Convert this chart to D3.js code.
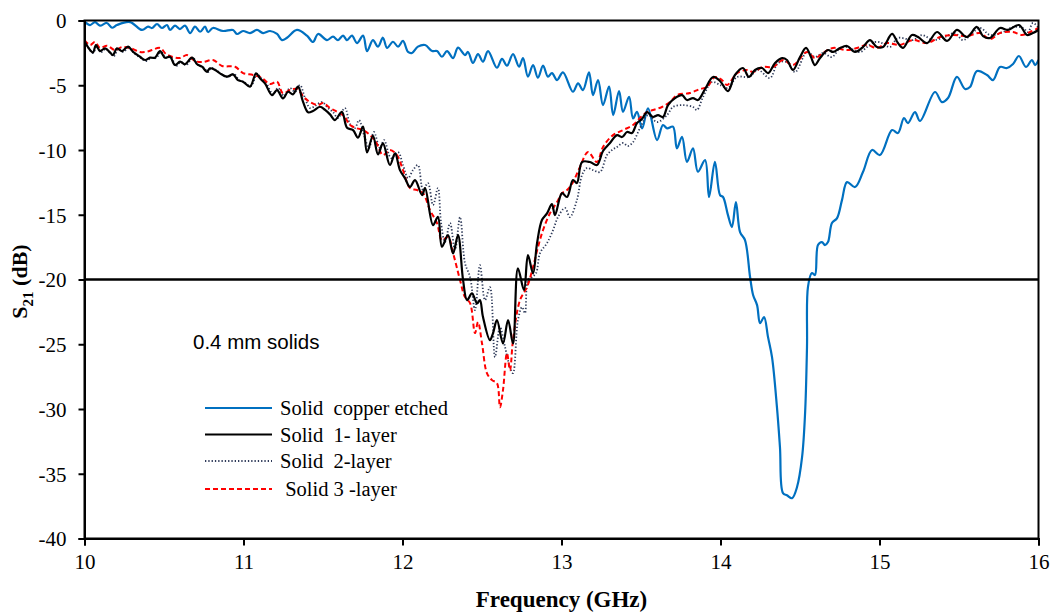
<!DOCTYPE html>
<html>
<head>
<meta charset="utf-8">
<script src="https://cdn.jsdelivr.net/npm/d3@7"></script>
<style>
  html, body { margin: 0; padding: 0; background: #fff; }
  svg { display: block; }
  text { white-space: pre; }
  .tick text { font-family: 'Liberation Serif', 'Times New Roman', serif !important; font-size: 21px !important; }
</style>
</head>
<body>
<svg id="chart" width="1057" height="612"></svg>
<script>
// ---- data (frequency GHz, S21 dB) ----
const xTicks = [10, 11, 12, 13, 14, 15, 16];
const yTicks = [0, -5, -10, -15, -20, -25, -30, -35, -40];
const thresholdDb = -20;
const annotation = "0.4 mm solids";
const seriesNames = ["Solid  copper etched", "Solid  1- layer", "Solid  2-layer", " Solid 3 -layer"];

const copperEtched = [
[10.00,-0.09],[10.035,-0.35],[10.066,-0.12],[10.097,-0.40],[10.14,-0.19],[10.173,-0.56],[10.204,-0.35],[10.286,-0.12],
[10.362,-0.73],[10.40,-0.48],[10.425,-0.58],[10.456,-0.27],[10.487,-0.58],[10.519,-0.35],[10.538,-0.73],[10.569,-0.40],
[10.60,-0.66],[10.632,-0.40],[10.664,-0.97],[10.695,-0.48],[10.727,-0.87],[10.758,-0.48],[10.777,-0.89],[10.808,-0.58],
[10.871,-0.81],[10.934,-0.73],[10.959,-1.04],[10.997,-0.81],[11.041,-0.97],[11.085,-0.73],[11.123,-0.97],[11.167,-0.81],
[11.211,-1.04],[11.242,-1.51],[11.274,-1.33],[11.336,-0.73],[11.399,-1.17],[11.437,-1.66],[11.469,-1.04],[11.525,-1.51],
[11.563,-1.25],[11.594,-1.51],[11.626,-1.17],[11.651,-1.51],[11.682,-1.17],[11.714,-1.74],[11.752,-1.17],[11.777,-2.36],
[11.814,-1.51],[11.846,-2.02],[11.877,-1.33],[11.903,-2.12],[11.940,-1.64],[11.972,-2.02],[12.003,-1.58],[12.035,-2.43],
[12.06,-2.51],[12.097,-2.02],[12.142,-1.89],[12.186,-2.36],[12.217,-2.36],[12.248,-2.80],[12.280,-2.36],[12.318,-2.90],
[12.349,-2.10],[12.393,-2.67],[12.412,-2.43],[12.443,-3.28],[12.475,-2.59],[12.506,-3.18],[12.538,-2.36],[12.594,-3.65],
[12.626,-2.97],[12.657,-3.49],[12.695,-2.59],[12.733,-3.57],[12.758,-2.90],[12.789,-4.34],[12.821,-3.44],[12.852,-4.42],
[12.884,-3.49],[12.915,-4.34],[12.940,-4.06],[12.972,-4.60],[13.009,-4.00],[13.072,-5.50],[13.104,-4.85],[13.135,-5.37],
[13.173,-4.00],[13.198,-5.76],[13.230,-4.60],[13.261,-6.53],[13.299,-5.11],[13.325,-7.30],[13.362,-5.45],[13.387,-7.05],
[13.425,-5.89],[13.450,-7.56],[13.475,-7.05],[13.507,-8.33],[13.544,-6.78],[13.601,-9.23],[13.638,-8.07],[13.664,-8.33],
[13.701,-8.20],[13.726,-9.87],[13.758,-8.98],[13.789,-10.91],[13.827,-9.87],[13.858,-11.68],[13.903,-10.78],[13.928,-13.63],
[13.965,-10.91],[13.997,-13.48],[14.016,-13.63],[14.047,-15.03],[14.072,-15.95],[14.097,-14.02],[14.123,-16.34],[14.154,-16.96],
[14.186,-19.81],[14.205,-21.20],[14.230,-21.98],[14.249,-23.37],[14.274,-22.90],[14.299,-24.45],[14.324,-26.00],[14.355,-29.86],
[14.374,-32.95],[14.393,-36.50],[14.418,-36.66],[14.450,-36.89],[14.481,-36.04],[14.513,-33.72],[14.532,-30.32],[14.544,-25.22],
[14.550,-20.59],[14.575,-19.50],[14.594,-19.66],[14.613,-17.34],[14.638,-17.11],[14.657,-17.34],[14.676,-17.11],[14.701,-15.64],
[14.733,-15.26],[14.764,-13.87],[14.796,-12.48],[14.846,-12.86],[14.896,-11.70],[14.953,-10.00],[15.003,-10.39],[15.079,-8.46],
[15.116,-8.69],[15.154,-7.53],[15.179,-7.92],[15.223,-7.07],[15.255,-7.76],[15.349,-5.52],[15.393,-6.30],[15.431,-5.99],
[15.487,-4.36],[15.538,-5.29],[15.569,-5.14],[15.613,-3.90],[15.676,-4.21],[15.714,-4.60],[15.758,-3.59],[15.802,-3.67],
[15.840,-3.36],[15.877,-2.74],[15.921,-3.59],[15.959,-3.05],[15.978,-3.44],[16.0,-3.05]
];

const oneLayer = [
[10.00,-1.58],[10.02,-2.02],[10.053,-2.46],[10.072,-1.89],[10.097,-2.36],[10.129,-2.15],[10.160,-2.46],[10.179,-2.67],
[10.204,-2.15],[10.236,-2.36],[10.274,-2.02],[10.305,-2.41],[10.349,-2.80],[10.381,-3.05],[10.412,-2.87],[10.443,-2.87],
[10.475,-2.36],[10.506,-2.87],[10.538,-2.80],[10.569,-3.44],[10.601,-3.18],[10.632,-3.38],[10.676,-2.87],[10.708,-3.38],
[10.739,-3.57],[10.770,-3.96],[10.789,-3.69],[10.821,-3.82],[10.852,-4.08],[10.896,-4.34],[10.934,-4.16],[10.965,-4.60],
[10.997,-4.73],[11.041,-5.11],[11.079,-4.08],[11.104,-4.47],[11.135,-4.85],[11.179,-5.76],[11.211,-5.37],[11.248,-6.01],
[11.280,-5.50],[11.311,-5.70],[11.343,-5.11],[11.374,-6.27],[11.406,-7.09],[11.437,-6.99],[11.481,-6.66],[11.513,-6.91],
[11.544,-7.25],[11.575,-7.69],[11.619,-7.05],[11.651,-8.28],[11.689,-8.46],[11.720,-9.05],[11.752,-8.20],[11.777,-10.18],
[11.814,-8.90],[11.846,-10.34],[11.877,-9.49],[11.921,-11.16],[11.953,-10.26],[11.984,-11.55],[12.016,-12.19],[12.047,-12.86],
[12.079,-12.32],[12.123,-13.48],[12.142,-12.94],[12.192,-15.80],[12.223,-15.16],[12.248,-17.47],[12.286,-16.57],[12.318,-17.98],
[12.349,-16.57],[12.381,-20.05],[12.406,-21.59],[12.437,-21.07],[12.469,-21.85],[12.487,-21.59],[12.506,-22.88],[12.550,-24.68],
[12.569,-24.16],[12.594,-23.14],[12.632,-24.94],[12.664,-23.14],[12.695,-24.94],[12.726,-19.14],[12.764,-20.82],[12.789,-18.12],
[12.821,-19.53],[12.846,-17.21],[12.877,-15.41],[12.909,-14.89],[12.940,-14.18],[12.959,-15.03],[13.003,-13.33],[13.035,-13.63],
[13.072,-12.32],[13.097,-12.55],[13.129,-10.93],[13.179,-10.93],[13.223,-11.16],[13.261,-10.08],[13.305,-9.46],[13.349,-8.85],
[13.381,-9.00],[13.412,-8.61],[13.443,-8.69],[13.475,-7.92],[13.506,-7.61],[13.538,-7.07],[13.575,-7.45],[13.607,-7.30],
[13.638,-7.45],[13.670,-6.53],[13.714,-5.99],[13.758,-5.76],[13.789,-6.14],[13.827,-5.99],[13.858,-6.14],[13.903,-5.29],
[13.953,-4.36],[13.997,-4.67],[14.047,-5.45],[14.091,-4.21],[14.141,-3.67],[14.179,-4.36],[14.217,-3.82],[14.261,-3.67],
[14.299,-4.06],[14.343,-3.28],[14.387,-2.90],[14.418,-3.05],[14.456,-3.82],[14.500,-2.82],[14.538,-2.12],[14.569,-2.82],
[14.594,-3.44],[14.626,-2.90],[14.676,-2.28],[14.708,-2.43],[14.752,-2.12],[14.796,-1.97],[14.846,-2.43],[14.896,-2.05],
[14.940,-1.51],[14.984,-2.05],[15.022,-2.05],[15.079,-1.04],[15.116,-1.74],[15.148,-2.12],[15.204,-1.12],[15.242,-1.27],
[15.299,-1.74],[15.362,-0.89],[15.425,-1.58],[15.487,-0.73],[15.550,-1.27],[15.613,-0.50],[15.651,-1.20],[15.695,-1.35],
[15.758,-0.58],[15.808,-0.73],[15.877,-0.35],[15.928,-1.12],[15.965,-0.97],[16.0,-0.73]
];

const twoLayer = [
[10.00,-1.66],[10.022,-2.05],[10.053,-2.51],[10.079,-1.97],[10.104,-2.43],[10.135,-2.20],[10.167,-2.59],[10.186,-2.74],
[10.211,-2.20],[10.242,-2.43],[10.280,-2.12],[10.311,-2.51],[10.355,-2.90],[10.387,-3.13],[10.418,-2.90],[10.450,-2.90],
[10.481,-2.43],[10.513,-2.90],[10.544,-2.82],[10.575,-3.51],[10.607,-3.21],[10.638,-3.44],[10.682,-2.90],[10.714,-3.44],
[10.745,-3.59],[10.777,-3.98],[10.796,-3.67],[10.827,-3.82],[10.858,-4.13],[10.903,-4.36],[10.940,-4.13],[10.972,-4.60],
[11.003,-4.75],[11.047,-5.06],[11.085,-4.13],[11.110,-4.44],[11.142,-4.83],[11.186,-5.68],[11.217,-5.21],[11.255,-5.83],
[11.292,-5.21],[11.324,-5.52],[11.355,-4.98],[11.387,-5.99],[11.418,-6.76],[11.450,-6.60],[11.494,-6.30],[11.531,-6.76],
[11.563,-7.07],[11.594,-7.53],[11.638,-6.76],[11.670,-7.99],[11.701,-8.30],[11.726,-7.69],[11.758,-8.85],[11.789,-9.85],
[11.820,-8.61],[11.858,-9.85],[11.884,-9.23],[11.928,-10.62],[11.972,-10.16],[12.003,-11.16],[12.035,-12.17],[12.066,-11.55],
[12.097,-11.16],[12.129,-13.09],[12.160,-12.55],[12.192,-14.25],[12.223,-12.94],[12.242,-15.57],[12.267,-17.11],[12.299,-15.64],
[12.330,-17.73],[12.362,-15.18],[12.393,-18.73],[12.425,-19.81],[12.456,-22.37],[12.487,-18.89],[12.519,-21.59],[12.550,-20.59],
[12.582,-25.99],[12.613,-23.68],[12.645,-25.22],[12.676,-26.77],[12.695,-27.23],[12.726,-23.14],[12.752,-22.13],[12.770,-22.60],
[12.789,-20.05],[12.814,-19.81],[12.840,-19.51],[12.865,-17.96],[12.909,-17.19],[12.947,-16.18],[12.978,-15.18],[13.022,-14.48],
[13.053,-15.18],[13.097,-13.86],[13.129,-11.94],[13.160,-11.39],[13.198,-11.55],[13.242,-11.70],[13.286,-10.39],[13.318,-10.00],
[13.349,-9.77],[13.387,-9.46],[13.418,-9.69],[13.450,-9.39],[13.494,-8.30],[13.544,-7.30],[13.601,-7.84],[13.664,-7.30],
[13.701,-6.68],[13.764,-6.53],[13.827,-6.68],[13.852,-6.91],[13.890,-5.91],[13.947,-4.75],[13.997,-4.98],[14.047,-5.21],
[14.104,-4.36],[14.179,-4.36],[14.236,-3.82],[14.311,-4.44],[14.362,-3.28],[14.418,-3.21],[14.469,-3.98],[14.544,-2.43],
[14.594,-2.82],[14.645,-2.51],[14.701,-2.82],[14.752,-2.12],[14.796,-2.05],[14.877,-2.43],[14.921,-2.05],[14.972,-1.66],
[15.016,-1.74],[15.066,-2.05],[15.116,-1.35],[15.211,-1.51],[15.267,-1.12],[15.336,-1.51],[15.412,-1.27],[15.475,-0.97],
[15.525,-1.51],[15.632,-0.58],[15.695,-1.12],[15.777,-0.89],[15.840,-0.50],[15.903,-0.58],[15.934,-0.89],[15.965,-0.19],
[16.0,-0.58]
];

const threeLayer = [
[10.00,-1.51],[10.035,-1.89],[10.066,-1.66],[10.097,-2.12],[10.142,-1.95],[10.192,-2.28],[10.236,-2.05],[10.286,-2.12],
[10.349,-2.43],[10.393,-2.41],[10.425,-2.28],[10.475,-2.12],[10.513,-2.59],[10.550,-2.80],[10.601,-2.90],[10.645,-2.67],
[10.695,-3.13],[10.745,-3.21],[10.808,-3.05],[10.865,-3.51],[10.947,-3.57],[10.997,-4.06],[11.060,-4.21],[11.116,-4.44],
[11.167,-4.91],[11.211,-4.73],[11.248,-5.62],[11.292,-5.37],[11.336,-5.29],[11.380,-5.91],[11.418,-6.30],[11.469,-6.53],
[11.500,-6.37],[11.544,-6.76],[11.588,-7.05],[11.632,-7.38],[11.670,-8.07],[11.714,-8.33],[11.752,-8.46],[11.796,-8.85],
[11.833,-9.39],[11.877,-10.39],[11.921,-10.00],[11.965,-10.39],[12.003,-11.55],[12.047,-12.94],[12.091,-13.09],[12.129,-13.33],
[12.173,-14.64],[12.217,-15.64],[12.248,-16.96],[12.286,-16.72],[12.318,-17.96],[12.362,-20.05],[12.393,-21.36],[12.425,-21.82],
[12.456,-24.14],[12.475,-23.29],[12.500,-24.92],[12.531,-27.23],[12.563,-27.77],[12.594,-28.00],[12.613,-29.86],[12.632,-28.54],
[12.657,-25.69],[12.676,-27.00],[12.695,-24.68],[12.739,-21.59],[12.783,-20.59],[12.821,-19.04],[12.852,-17.50],[12.884,-16.18],
[12.928,-14.87],[12.972,-14.02],[13.003,-13.33],[13.035,-13.09],[13.072,-12.48],[13.116,-11.32],[13.167,-10.16],[13.223,-10.93],
[13.261,-9.77],[13.324,-8.85],[13.387,-8.46],[13.450,-8.07],[13.494,-7.53],[13.538,-7.07],[13.575,-6.91],[13.632,-6.68],
[13.682,-6.30],[13.726,-5.76],[13.808,-5.60],[13.871,-5.29],[13.915,-5.14],[13.965,-4.36],[14.009,-4.60],[14.041,-4.98],
[14.104,-4.06],[14.167,-3.82],[14.205,-3.98],[14.267,-3.59],[14.330,-3.59],[14.393,-3.05],[14.456,-3.44],[14.544,-2.43],
[14.594,-2.90],[14.645,-2.51],[14.708,-2.12],[14.796,-2.28],[14.858,-2.12],[14.921,-1.89],[14.984,-2.12],[15.047,-1.74],
[15.129,-1.89],[15.211,-1.51],[15.299,-1.74],[15.381,-1.27],[15.462,-1.12],[15.550,-1.20],[15.632,-0.97],[15.695,-1.43],
[15.758,-0.97],[15.840,-0.89],[15.896,-1.12],[15.947,-0.89],[16.0,-0.58]
];

// ---- layout ----
const svg = d3.select("#chart");
const L = 84.5, T = 20.5, R = 1038.5, B = 538.5;
const x = d3.scaleLinear().domain([10, 16]).range([L, R]);
const y = d3.scaleLinear().domain([-40, 0]).range([B, T]);
const serif = "'Liberation Serif', 'Times New Roman', serif";

svg.append("defs").append("clipPath").attr("id", "clip")
  .append("rect").attr("x", L).attr("y", T).attr("width", R - L).attr("height", B - T);

const line = d3.line().x(d => x(d[0])).y(d => y(d[1])).curve(d3.curveCatmullRom.alpha(0.5));

const styles = [
  { data: copperEtched, color: "#0070C0", width: 2.2, dash: null },
  { data: oneLayer, color: "#000000", width: 2.2, dash: null },
  { data: twoLayer, color: "#2F3B5A", width: 1.8, dash: "1.3,2" },
  { data: threeLayer, color: "#FF0000", width: 2, dash: "5,3" }
];

const plot = svg.append("g").attr("clip-path", "url(#clip)");
// draw order: copper, 2-layer, 3-layer, 1-layer on top
[0, 2, 3, 1].forEach(i => {
  const s = styles[i];
  plot.append("path").datum(s.data)
    .attr("fill", "none").attr("stroke", s.color).attr("stroke-width", s.width)
    .attr("stroke-dasharray", s.dash).attr("stroke-linejoin", "round")
    .attr("d", line);
});

// -20 dB line
svg.append("line").attr("x1", L).attr("x2", R)
  .attr("y1", y(thresholdDb)).attr("y2", y(thresholdDb))
  .attr("stroke", "#000").attr("stroke-width", 2.5);

// frame
svg.append("rect").attr("x", L).attr("y", T).attr("width", R - L).attr("height", B - T)
  .attr("fill", "none").attr("stroke", "#000").attr("stroke-width", 2);

// axes
const xAxis = svg.append("g").attr("transform", `translate(0,${B})`)
  .call(d3.axisBottom(x).tickValues(xTicks).tickSize(7).tickPadding(9).tickFormat(d3.format("d")));
const yAxis = svg.append("g").attr("transform", `translate(${L},0)`)
  .call(d3.axisLeft(y).tickValues(yTicks).tickSize(6).tickPadding(12).tickFormat(d => d === 0 ? "0" : String(d)));
[xAxis, yAxis].forEach(a => {
  a.attr("font-family", serif).attr("font-size", 21);
  a.select(".domain").attr("stroke", "#000").attr("stroke-width", 2);
  a.selectAll(".tick line").attr("stroke", "#000").attr("stroke-width", 2);
  a.selectAll(".tick text").attr("font-family", serif).attr("font-size", 21).attr("fill", "#000");
});
yAxis.selectAll(".tick text").attr("dy", "0.35em");

// axis titles
svg.append("text").attr("x", (L + R) / 2).attr("y", 607)
  .attr("text-anchor", "middle").attr("font-family", serif).attr("font-weight", "bold")
  .attr("font-size", 23).text("Frequency (GHz)");

const yt = svg.append("text").attr("transform", `translate(27,${(T + B) / 2 + 2}) rotate(-90)`)
  .attr("text-anchor", "middle").attr("font-family", serif).attr("font-weight", "bold")
  .attr("font-size", 22);
yt.append("tspan").text("S");
yt.append("tspan").attr("font-size", 15).attr("dy", 6).text("21");
yt.append("tspan").attr("dy", -6).text(" (dB)");

// annotation
svg.append("text").attr("x", 193).attr("y", 349)
  .attr("font-family", "'Liberation Sans', Arial, sans-serif").attr("font-size", 20.5)
  .attr("fill", "#000").text(annotation);

// legend
const legendY = [408, 434.5, 461, 489];
const lg = svg.append("g");
styles.forEach((s, i) => {
  lg.append("line").attr("x1", 205).attr("x2", 272).attr("y1", legendY[i]).attr("y2", legendY[i])
    .attr("stroke", s.color).attr("stroke-width", s.width).attr("stroke-dasharray", s.dash);
  lg.append("text").attr("x", 280).attr("y", legendY[i]).attr("dy", "0.35em")
    .attr("font-family", serif).attr("font-size", 20.5).attr("fill", "#000")
    .attr("xml:space", "preserve").text(seriesNames[i]);
});
</script>
</body>
</html>
